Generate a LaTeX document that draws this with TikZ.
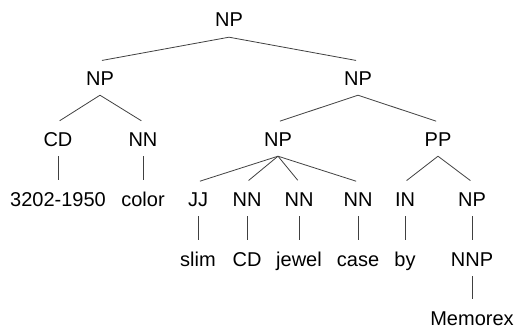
\documentclass[tikz,border=0pt]{standalone}
\usepackage{fontspec}
\setmainfont{Liberation Sans}
\begin{document}
\begin{tikzpicture}[x=1pt,y=-1pt,
  cat/.style={inner xsep=0pt,inner ysep=10pt,text height=14pt,text depth=0pt,
    font=\fontsize{20}{24}\selectfont},
  branch/.style={draw=black!75,line width=0.8pt,shorten >=2pt}]
\useasboundingbox (0,0) rectangle (516,329);

% top level
\node[cat] (s) at (229,20) {NP};
\node[cat] (np1) at (100,78) {NP};
\node[cat] (np2) at (358,78) {NP};

% left subtree
\node[cat] (cd) at (58,139) {CD};
\node[cat] (nn1) at (143,139) {NN};
\node[cat] (w1) at (58,199) {3202-1950};
\node[cat] (w2) at (143,199) {color};

% right subtree
\node[cat] (np3) at (278,139) {NP};
\node[cat] (pp) at (438,139) {PP};
\node[cat] (jj) at (198,199) {JJ};
\node[cat] (nn2) at (247,199) {NN};
\node[cat] (nn3) at (299,199) {NN};
\node[cat] (nn4) at (358,199) {NN};
\node[cat] (in) at (405,199) {IN};
\node[cat] (np4) at (472,199) {NP};
\node[cat] (w3) at (198,259) {slim};
\node[cat] (w4) at (247,259) {CD};
\node[cat] (w5) at (299,259) {jewel};
\node[cat] (w6) at (358,259) {case};
\node[cat] (w7) at (405,259) {by};
\node[cat] (nnp) at (472,259) {NNP};
\node[cat] (w8) at (472,318) {Memorex};

% branches
\draw[branch] (s.south) -- (np1.north);
\draw[branch] (s.south) -- (np2.north);
\draw[branch] (np1.south) -- (cd.north);
\draw[branch] (np1.south) -- (nn1.north);
\draw[branch] (cd.south) -- (w1.north);
\draw[branch] (nn1.south) -- (w2.north);
\draw[branch] (np2.south) -- (np3.north);
\draw[branch] (np2.south) -- (pp.north);
\foreach \c in {jj,nn2,nn3,nn4}
  \draw[branch] (np3.south) -- (\c.north);
\draw[branch] (pp.south) -- (in.north);
\draw[branch] (pp.south) -- (np4.north);
\draw[branch] (jj.south) -- (w3.north);
\draw[branch] (nn2.south) -- (w4.north);
\draw[branch] (nn3.south) -- (w5.north);
\draw[branch] (nn4.south) -- (w6.north);
\draw[branch] (in.south) -- (w7.north);
\draw[branch] (np4.south) -- (nnp.north);
\draw[branch] (nnp.south) -- (w8.north);
\end{tikzpicture}
\end{document}
